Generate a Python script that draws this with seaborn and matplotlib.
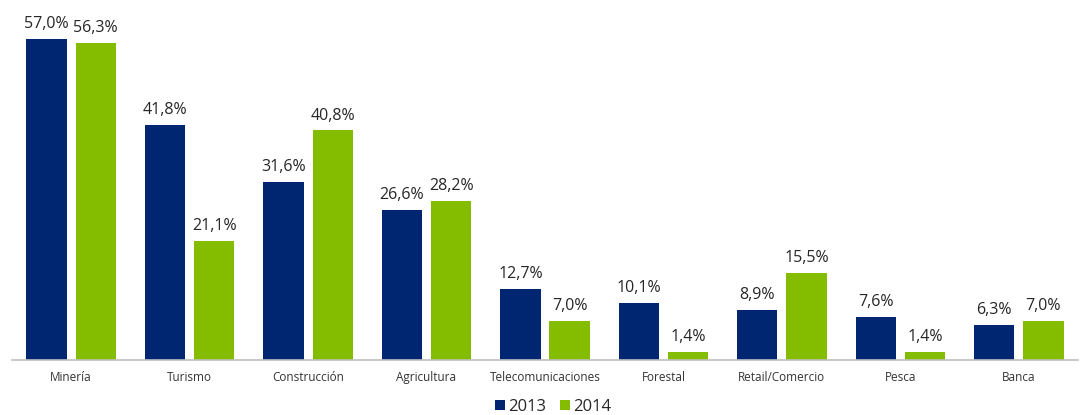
import pandas as pd
import matplotlib
matplotlib.use("Agg")
import matplotlib.pyplot as plt
import seaborn as sns

sectores = ["Minería", "Turismo", "Construcción", "Agricultura", "Telecomunicaciones",
            "Forestal", "Retail/Comercio", "Pesca", "Banca"]
valores_2013 = [57.0, 41.8, 31.6, 26.6, 12.7, 10.1, 8.9, 7.6, 6.3]
valores_2014 = [56.3, 21.1, 40.8, 28.2, 7.0, 1.4, 15.5, 1.4, 7.0]
anios = ["2013", "2014"]
colores = ["#002672", "#84BC00"]

df = pd.DataFrame({
    "sector": sectores * 2,
    "anio": [anios[0]] * len(sectores) + [anios[1]] * len(sectores),
    "valor": valores_2013 + valores_2014,
})

sns.set_style("white")
plt.rcParams["font.family"] = ["Open Sans", "DejaVu Sans"]

fig = plt.figure(figsize=(10.9, 4.15), dpi=100)
ax = fig.add_axes([12 / 1090, 55 / 415, 1066 / 1090, 360 / 415])

sns.barplot(data=df, x="sector", y="valor", hue="anio", palette=colores,
            width=0.83, gap=0.18, linewidth=0, ax=ax, legend=True, saturation=1)

for cont in ax.containers:
    ax.bar_label(cont, labels=[f"{v:.1f}%".replace(".", ",") for v in cont.datavalues],
                 padding=5, fontsize=11.5, color="#262626")

ax.set_ylim(0, 64)
ax.set_xlim(-0.5, len(sectores) - 0.5)
ax.set_xlabel("")
ax.set_ylabel("")
ax.set_yticks([])
ax.tick_params(axis="x", length=0, labelsize=8.5, colors="#333333", pad=8)
for s in ["top", "right", "left"]:
    ax.spines[s].set_visible(False)
ax.spines["bottom"].set_color("#BFBFBF")
ax.spines["bottom"].set_linewidth(1.2)

ax.legend(loc="center", bbox_to_anchor=(541 / 1066, -47 / 360), ncol=2, frameon=False,
          fontsize=12, handlelength=0.6, handleheight=0.6, handletextpad=0.2,
          columnspacing=0.8)

fig.savefig("out.png", dpi=100)
